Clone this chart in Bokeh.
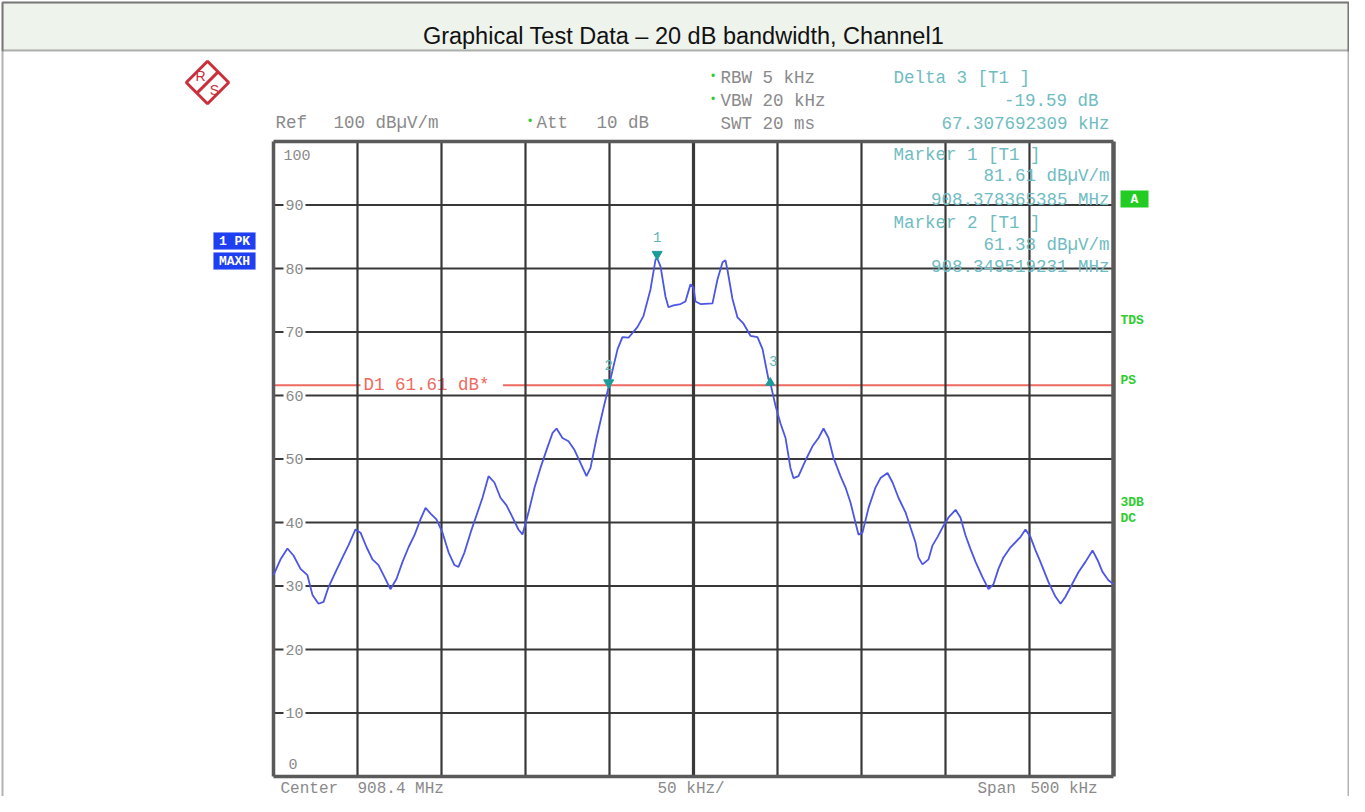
import numpy as np
from bokeh.plotting import figure
from bokeh.models import Range1d, Label, BoxAnnotation
from bokeh.core.properties import value
from bokeh.embed import file_html
from bokeh.resources import INLINE

# ---------------- data ----------------
freq_mhz = [
    908.1500, 908.1542, 908.1583, 908.1619, 908.1661, 908.1702, 908.1732, 908.1768, 908.1798, 908.1827,
    908.1869, 908.1911, 908.1946, 908.1988, 908.2018, 908.2054, 908.2089, 908.2125, 908.2161, 908.2196,
    908.2232, 908.2268, 908.2304, 908.2339, 908.2375, 908.2405, 908.2435, 908.2470, 908.2506, 908.2542,
    908.2577, 908.2601, 908.2637, 908.2673, 908.2708, 908.2744, 908.2780, 908.2815, 908.2851, 908.2887,
    908.2923, 908.2958, 908.2982, 908.3018, 908.3054, 908.3089, 908.3125, 908.3161, 908.3185, 908.3220,
    908.3256, 908.3292, 908.3327, 908.3363, 908.3387, 908.3423, 908.3464, 908.3495, 908.3548, 908.3577,
    908.3613, 908.3667, 908.3702, 908.3744, 908.3774, 908.3784, 908.3804, 908.3833, 908.3851, 908.3881,
    908.3923, 908.3952, 908.3982, 908.4000, 908.4012, 908.4042, 908.4113, 908.4143, 908.4173, 908.4190,
    908.4202, 908.4232, 908.4262, 908.4298, 908.4339, 908.4381, 908.4411, 908.4446, 908.4457, 908.4488,
    908.4518, 908.4548, 908.4577, 908.4595, 908.4625, 908.4667, 908.4708, 908.4744, 908.4774, 908.4804,
    908.4833, 908.4875, 908.4905, 908.4935, 908.4964, 908.4982, 908.5006, 908.5042, 908.5083, 908.5113,
    908.5155, 908.5185, 908.5220, 908.5262, 908.5292, 908.5321, 908.5339, 908.5363, 908.5399, 908.5423,
    908.5452, 908.5482, 908.5518, 908.5560, 908.5589, 908.5619, 908.5649, 908.5679, 908.5720, 908.5756,
    908.5786, 908.5815, 908.5845, 908.5887, 908.5946, 908.5976, 908.6006, 908.6036, 908.6065, 908.6113,
    908.6155, 908.6185, 908.6214, 908.6244, 908.6292, 908.6333, 908.6375, 908.6405, 908.6435, 908.6470,
    908.6500,
]
level_dbuv = [
    31.7, 34.2, 35.9, 34.8, 32.7, 31.7, 28.6, 27.2, 27.5, 29.8,
    32.2, 34.5, 36.4, 38.9, 38.4, 36.1, 34.2, 33.3, 31.4, 29.5,
    31.1, 33.8, 36.1, 38.0, 40.5, 42.3, 41.4, 40.5, 38.4, 35.3,
    33.3, 33.0, 35.3, 38.4, 41.1, 43.9, 47.3, 46.3, 43.9, 42.7,
    40.8, 38.9, 38.1, 41.6, 45.5, 48.6, 51.4, 54.1, 54.8, 53.3,
    52.8, 51.4, 49.4, 47.3, 48.6, 53.3, 58.0, 61.38, 67.3, 69.2,
    69.1, 70.8, 72.5, 76.7, 81.4, 81.61, 80.3, 75.6, 73.9, 74.2,
    74.4, 74.8, 77.5, 77.0, 74.8, 74.4, 74.5, 78.3, 81.0, 81.3,
    79.8, 75.2, 72.3, 71.3, 69.4, 69.2, 67.3, 62.6, 62.02, 58.4,
    55.6, 53.3, 48.6, 47.0, 47.3, 49.8, 52.0, 53.3, 54.8, 53.3,
    50.2, 47.3, 45.5, 43.1, 40.0, 38.1, 38.4, 42.3, 45.5, 47.0,
    47.8, 46.3, 43.9, 41.6, 39.2, 36.9, 34.5, 33.4, 34.2, 36.4,
    37.7, 39.2, 40.8, 42.0, 40.8, 38.0, 35.8, 33.8, 31.4, 29.5,
    30.3, 32.7, 34.5, 36.1, 37.7, 38.9, 37.7, 35.6, 33.8, 30.6,
    28.3, 27.2, 28.3, 29.8, 32.2, 33.8, 35.6, 34.1, 32.2, 30.9,
    30.3,
]

x_ticks = [908.15, 908.20, 908.25, 908.30, 908.35, 908.40, 908.45, 908.50, 908.55, 908.60, 908.65]
y_ticks = [0, 10, 20, 30, 40, 50, 60, 70, 80, 90, 100]
y_tick_labels = ["0", "10", "20", "30", "40", "50", "60", "70", "80", "90", "100"]

marker_names = ["1", "2", "3"]
marker_freq = [908.378365385, 908.349519231, 908.445673077]
marker_level = [81.61, 61.38, 62.02]
display_line_level = 61.61

title_text = "Graphical Test Data \u2013 20 dB bandwidth, Channel1"

# ---------------- geometry ----------------
W, H = 1349, 796
GX0, GX1 = 273, 1113      # grid left/right in px
GY100, GY0 = 141, 776     # grid top (100) / bottom (0) in px
F0, F1 = x_ticks[0], x_ticks[-1]
mhz_per_px = (F1 - F0) / (GX1 - GX0)
db_per_px = 100.0 / (GY0 - GY100)
x_start = F0 - GX0 * mhz_per_px
x_end = x_start + W * mhz_per_px
y_top = 100 + GY100 * db_per_px
y_bot = y_top - H * db_per_px


def sx(X):
    return X


def sy(Y):
    return H - Y


def dxp(X):
    return x_start + X * mhz_per_px


def dyp(Y):
    return y_top - Y * db_per_px


p = figure(width=W, height=H, x_range=Range1d(x_start, x_end), y_range=Range1d(y_bot, y_top),
           output_backend="svg", toolbar_location=None, x_axis_location=None, y_axis_location=None,
           min_border=0, outline_line_color=None, background_fill_color="white",
           border_fill_color="white")
p.grid.visible = False

MONO = "Liberation Mono"
GRAY_TXT = "#8a8a8a"
TEAL_TXT = "#6fbcc2"
TEAL_MK = "#1c9c98"
GREEN = "#2fcc2f"
RED = "#ee6a60"
GRID = "#383838"


def lab(text, X, Y, color, size="17.5px", font=MONO, align="left", bold=False, angle=0.0):
    p.add_layout(Label(x=sx(X), y=sy(Y), x_units="screen", y_units="screen", text=text,
                       text_font=font, text_font_size=size, text_color=color, text_align=align,
                       text_baseline="middle", text_font_style="bold" if bold else "normal",
                       angle=angle))


# ---------------- header band and outer frame ----------------
p.add_layout(BoxAnnotation(left=2, right=W - 1, top=H - 2, bottom=sy(50),
                           left_units="screen", right_units="screen", top_units="screen",
                           bottom_units="screen", fill_color="#eef3ec", fill_alpha=1.0,
                           line_color="black", line_width=2, level="underlay"))
p.add_layout(BoxAnnotation(left=2, right=W - 1, top=H - 2, bottom=-10,
                           left_units="screen", right_units="screen", top_units="screen",
                           bottom_units="screen", fill_alpha=0.0,
                           line_color="black", line_width=2, level="underlay"))
lab(title_text, 683, 35, "#111111", size="23.5px", font="Liberation Sans", align="center")

# ---------------- display line D1 ----------------
p.segment(x0=[F0], y0=[display_line_level], x1=[F1], y1=[display_line_level],
          line_color=RED, line_width=2)
p.text(x=[F0], y=[display_line_level], text=["D1 61.61 dB* "], x_offset=87,
       text_align="left", text_baseline="middle", text_font=value(MONO), text_font_size="17.5px",
       text_color=RED, background_fill_color="white", padding=3)

# ---------------- grid ----------------
inner_y = y_ticks[1:-1]
p.segment(x0=[F0] * len(inner_y), y0=inner_y, x1=[F1] * len(inner_y), y1=inner_y,
          line_color=GRID, line_width=2.2)
p.text(x=[F0] * len(inner_y), y=inner_y, text=y_tick_labels[1:-1], x_offset=10,
       text_align="left", text_baseline="middle", text_font=value(MONO), text_font_size="15px",
       text_color=GRAY_TXT, background_fill_color="white", padding=2)
p.text(x=[F0, F0], y=[y_ticks[-1], y_ticks[0]], text=[y_tick_labels[-1], y_tick_labels[0]],
       x_offset=[10, 15], y_offset=[13, -13], text_align="left", text_baseline="middle",
       text_font=value(MONO), text_font_size="15px", text_color=GRAY_TXT)

inner_x = x_ticks[1:-1]
widths = [3.2 if abs(t - 908.40) < 1e-9 else 2.2 for t in inner_x]
p.segment(x0=inner_x, y0=[0] * len(inner_x), x1=inner_x, y1=[100] * len(inner_x),
          line_color=GRID, line_width=widths)
# frame border
p.segment(x0=[F0, F1, F0, F0], y0=[0, 0, 0, 100], x1=[F0, F1, F1, F1], y1=[100, 100, 0, 100],
          line_color="#5a5a5a", line_width=[3.5, 4.5, 3.5, 3.5])

# ---------------- trace ----------------
p.line(freq_mhz, level_dbuv, line_color="#4b55e6", line_width=1.8)

# ---------------- markers ----------------
tri_off = 4 * db_per_px
p.scatter(x=marker_freq[:2], y=[v + tri_off for v in marker_level[:2]], marker="inverted_triangle",
          size=10, fill_color=TEAL_MK, line_color=TEAL_MK)
p.scatter(x=marker_freq[2:], y=marker_level[2:], marker="triangle",
          size=9, fill_color=TEAL_MK, line_color=TEAL_MK)
p.text(x=marker_freq, y=marker_level, text=marker_names, x_offset=[0, 0, 3], y_offset=[-21, -22, -22],
       text_align="center", text_baseline="middle", text_font=value(MONO), text_font_size="14px",
       text_color="#5fb5b5")

# ---------------- instrument annotations ----------------
lab("Ref", 275, 122, GRAY_TXT)
lab("100 dB\u00b5V/m", 333, 122, GRAY_TXT)
lab("\u2022", 526, 121, GREEN, size="12px")
lab("Att", 536, 122, GRAY_TXT)
lab("10 dB", 596, 122, GRAY_TXT)
lab("\u2022", 709, 76, GREEN, size="12px")
lab("RBW 5 kHz", 720, 77, GRAY_TXT)
lab("\u2022", 709, 99, GREEN, size="12px")
lab("VBW 20 kHz", 720, 100, GRAY_TXT)
lab("SWT 20 ms", 720, 123, GRAY_TXT)

lab("Delta 3 [T1 ]", 893, 77, TEAL_TXT)
lab("-19.59 dB", 1098, 100, TEAL_TXT, align="right")
lab("67.307692309 kHz", 1109, 123, TEAL_TXT, align="right")
lab("Marker 1 [T1 ]", 893, 154, TEAL_TXT)
lab("81.61 dB\u00b5V/m", 1109, 175, TEAL_TXT, align="right")
lab("908.378365385 MHz", 1109, 199, TEAL_TXT, align="right")
lab("Marker 2 [T1 ]", 893, 222, TEAL_TXT)
lab("61.38 dB\u00b5V/m", 1109, 244, TEAL_TXT, align="right")
lab("908.349519231 MHz", 1109, 266, TEAL_TXT, align="right")

BOT_Y = 788
lab("Center", 280, BOT_Y, GRAY_TXT, size="16px")
lab("908.4 MHz", 357, BOT_Y, GRAY_TXT, size="16px")
lab("50 kHz/", 657, BOT_Y, GRAY_TXT, size="16px")
lab("Span", 977, BOT_Y, GRAY_TXT, size="16px")
lab("500 kHz", 1030, BOT_Y, GRAY_TXT, size="16px")

# right side status
p.add_layout(BoxAnnotation(left=sx(1120), right=sx(1148), top=sy(190), bottom=sy(207),
                           left_units="screen", right_units="screen", top_units="screen",
                           bottom_units="screen", fill_color="#22cc22", fill_alpha=1.0,
                           line_color=None))
lab("A", 1134, 199, "white", size="13px", align="center", bold=True)
lab("TDS", 1120, 320, GREEN, size="13px", bold=True)
lab("PS", 1120, 380, GREEN, size="13px", bold=True)
lab("3DB", 1120, 502, GREEN, size="13px", bold=True)
lab("DC", 1120, 518, GREEN, size="13px", bold=True)

# left side trace info
for (top_y, bot_y, txt) in [(232, 249, "1 PK"), (252, 269, "MAXH")]:
    p.add_layout(BoxAnnotation(left=sx(213), right=sx(255), top=sy(top_y), bottom=sy(bot_y),
                               left_units="screen", right_units="screen", top_units="screen",
                               bottom_units="screen", fill_color="#1f3ff2", fill_alpha=1.0,
                               line_color="#6f86f8", line_width=1))
    lab(txt, 234, (top_y + bot_y) / 2 + 0.5, "white", size="13px", align="center", bold=True)

# R&S logo
LX, LY = 207, 82
p.scatter(x=[dxp(LX)], y=[dyp(LY)], marker="square", size=30, angle=np.pi / 4,
          fill_color="white", line_color="#c9303c", line_width=3)
p.scatter(x=[dxp(LX)], y=[dyp(LY)], marker="dash", size=30, angle=np.pi / 4,
          line_color="#c9303c", line_width=3)
lab("R", LX - 7, LY - 7, "#c9303c", size="14px", font="Liberation Sans", align="center")
lab("S", LX + 7, LY + 7, "#c9303c", size="14px", font="Liberation Sans", align="center")

open("out.html", "w").write(file_html(p, INLINE))
